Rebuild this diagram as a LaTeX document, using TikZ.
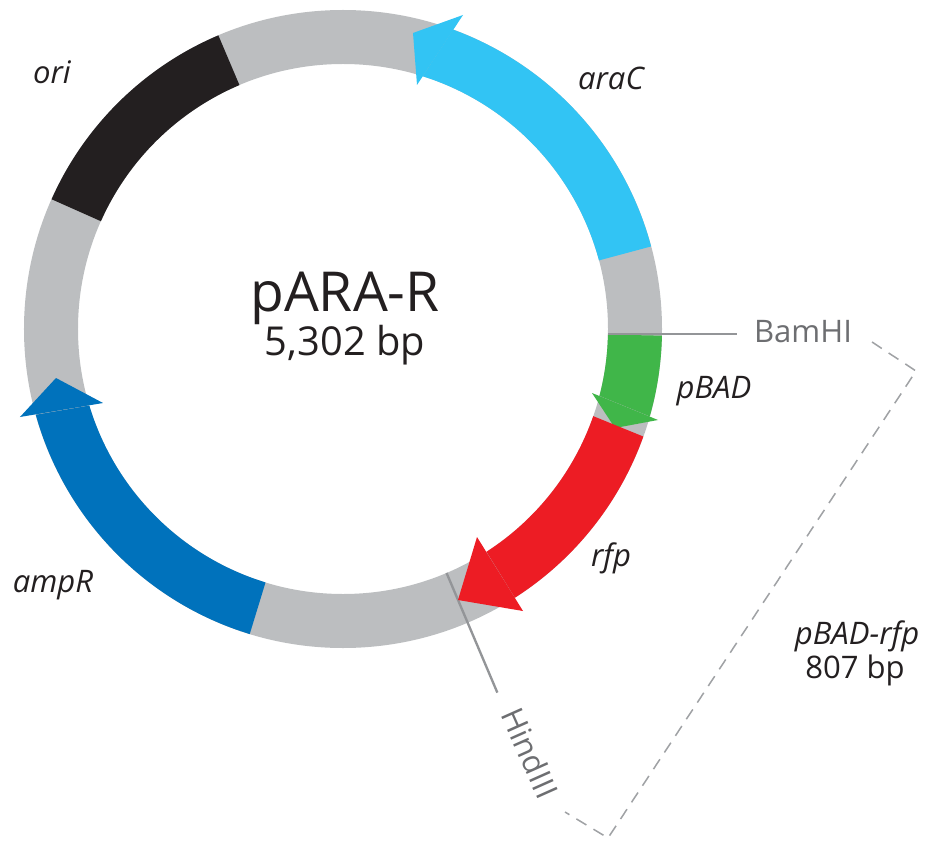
\documentclass[tikz,border=0pt]{standalone}
\usepackage{fontspec}
\setmainfont{Open Sans}
\definecolor{ringgray}{RGB}{188,190,192}
\definecolor{oricol}{RGB}{35,31,32}
\definecolor{aracol}{RGB}{50,196,244}
\definecolor{pbadcol}{RGB}{64,182,73}
\definecolor{rfpcol}{RGB}{237,28,36}
\definecolor{ampcol}{RGB}{0,114,188}
\definecolor{txtcol}{RGB}{35,31,32}
\definecolor{sitecol}{RGB}{109,110,113}
\definecolor{linecol}{RGB}{147,149,152}
\definecolor{dashcol}{RGB}{160,162,165}
\tikzset{
  lbl/.style={text=txtcol, font=\fontsize{26.5}{30}\selectfont\itshape, inner sep=0pt},
  sitelbl/.style={text=sitecol, font=\fontsize{26.5}{30}\selectfont, inner sep=0pt},
  siteline/.style={draw=linecol, line width=2pt},
  bracket/.style={draw=dashcol, line width=1.3pt, dash pattern=on 10pt off 7pt},
}
\begin{document}
\begin{tikzpicture}[x=0.03cm, y=0.03cm]
\useasboundingbox (-343,-513) rectangle (589,329);
% ring
\fill[ringgray, even odd rule] (0,0) circle[radius=319] (0,0) circle[radius=265];
% HindIII site line
\coordinate (hinda) at (-67:265);
\coordinate (hindb) at (-67:395);
\draw[siteline] (hinda) -- (hindb);
% ori
\fill[oricol] (113:265) arc[start angle=113,end angle=156,radius=265] -- (156:319) arc[start angle=156,end angle=113,radius=319] -- cycle;
% araC
\fill[aracol] (15:265) arc[start angle=15,end angle=72.5,radius=265] -- (69.8:319) arc[start angle=69.8,end angle=15,radius=319] -- cycle;
\fill[aracol] (120,314) -- (70,296) -- (74,244) -- cycle;
% pBAD
\fill[pbadcol] (-1.2:265) arc[start angle=-1.2,end angle=-14.6,radius=265] -- (-15.9:319) arc[start angle=-15.9,end angle=-1.2,radius=319] -- cycle;
\fill[pbadcol] (249,-64) -- (272,-99) -- (315,-91) -- cycle;
% rfp
\fill[rfpcol] (-19.2:265) arc[start angle=-19.2,end angle=-57.2,radius=265] -- (-57.4:319) arc[start angle=-57.4,end angle=-19.7,radius=319] -- cycle;
\fill[rfpcol] (134,-208) -- (115,-271) -- (180,-282) -- cycle;
% ampR
\fill[ampcol] (253:265) arc[start angle=253,end angle=196.8,radius=265] -- (195.6:319) arc[start angle=195.6,end angle=253,radius=319] -- cycle;
\fill[ampcol] (-240,-74) -- (-287,-49) -- (-323,-88) -- cycle;
% BamHI site line
\coordinate (bama) at (265,-5);
\coordinate (bamb) at (394,-5);
\draw[siteline] (bama) -- (bamb);
% dashed bracket
\coordinate (br1) at (529,-13);
\coordinate (br2) at (573,-42);
\coordinate (br3) at (265,-509);
\coordinate (br4) at (222,-483);
\draw[bracket] (br1) -- (br2) -- (br3) -- (br4);
% texts
\node[text=txtcol, font=\fontsize{47}{50}\selectfont, inner sep=0pt] (title) at (2,31) {pARA-R};
\node[text=txtcol, font=\fontsize{34}{38}\selectfont, inner sep=0pt] (size) at (2,-16) {5,302 bp};
\node[lbl] (ori) at (-291,257) {ori};
\node[lbl] (arac) at (268,251) {araC};
\node[lbl] (pbad) at (371,-62) {pBAD};
\node[lbl] (rfp) at (268,-229) {rfp};
\node[lbl] (ampr) at (-290,-256) {ampR};
\node[sitelbl] (bam) at (460,-3) {BamHI};
\node[sitelbl, rotate=-66] (hind) at (187,-424) {HindIII};
\node[lbl] (frag) at (514,-307) {pBAD-rfp};
\node[text=txtcol, font=\fontsize{26.5}{30}\selectfont, inner sep=0pt] (fragsize) at (512,-341) {807 bp};
\end{tikzpicture}
\end{document}
